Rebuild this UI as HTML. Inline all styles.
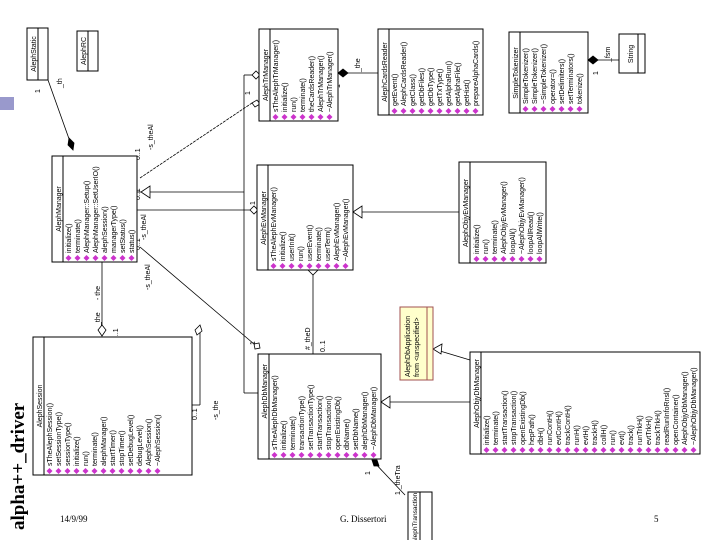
<!DOCTYPE html>
<html><head><meta charset="utf-8"><style>
html,body{margin:0;padding:0;background:#fff;}
svg{display:block;}
.t{font-family:"Liberation Sans",sans-serif;font-size:7px;fill:#000;}
.s{font-family:"Liberation Sans",sans-serif;font-size:7px;fill:#000;}
.b rect{fill:#fff;stroke:#000;stroke-width:1;}
.b line{stroke:#000;stroke-width:1;}
.c{stroke:#000;stroke-width:0.8;fill:none;}
</style></head><body>
<svg width="720" height="540" viewBox="0 0 720 540" xmlns="http://www.w3.org/2000/svg">
<defs><path id="d" d="M1 0l3-3 3 3-3 3z" fill="#c3c"/></defs>
<rect x="0" y="97" width="14" height="13" fill="#9999cc"/>

<!-- connectors -->
<g class="c">
<line x1="48" y1="80" x2="73" y2="150"/>
<line x1="137" y1="192" x2="244" y2="192"/>
<line x1="137" y1="210" x2="250" y2="210"/>
<line x1="244" y1="75" x2="244" y2="393"/>
<line x1="244" y1="75" x2="252" y2="75"/>
<line x1="244" y1="393" x2="258" y2="393"/>
<line x1="140" y1="178" x2="252" y2="103" stroke-dasharray="3,1"/>
<line x1="140" y1="247" x2="254" y2="344"/>
<line x1="102" y1="262" x2="102" y2="325"/>
<line x1="192" y1="405" x2="200" y2="405"/><line x1="200" y1="405" x2="200" y2="330"/>
<line x1="338" y1="73" x2="378" y2="73"/>
<line x1="588" y1="60" x2="619" y2="60"/>
<line x1="353" y1="212" x2="459" y2="212"/>
<line x1="313" y1="270" x2="313" y2="354"/>
<line x1="381" y1="402" x2="470" y2="402"/>
<line x1="470" y1="360" x2="440" y2="351"/>
<line x1="372" y1="460" x2="405" y2="495"/>
</g>
<!-- arrowheads -->
<g stroke="#000" stroke-width="0.8">
<path d="M73 150l-5-5 1-7 5 5z" fill="#000"/>
<path d="M150 186v12l-9-6z" fill="#fff"/>
<path d="M250 210l4-4 4 4-4 4z" fill="#fff"/>
<path d="M252 75l4-4 4 4-4 4z" fill="#fff"/>
<path d="M252 103l5-3 3 4-5 3z" fill="#fff"/>
<path d="M254 344l5-1 1 5-5 1z" fill="#fff"/>
<path d="M102 325l4 5-4 6-4-6z" fill="#fff"/>
<path d="M195 330l5-5 2 6-5 4z" fill="#fff"/>
<path d="M338 73l5-4 5 4-5 4z" fill="#000"/>
<path d="M588 60l5-4 5 4-5 4z" fill="#000"/>
<path d="M353 212l9-6v12z" fill="#fff"/>
<path d="M308 270l5-5 5 5-5 5z" fill="#fff"/>
<path d="M381 402l9-6v12z" fill="#fff"/>
<path d="M433 349l9-5-1 10z" fill="#fff"/>
<path d="M372 460l2 6 5 0-2-6z" fill="#000"/>
</g>
<!-- connector labels (rotated) -->
<g class="s">
<text transform="translate(40,93) rotate(-90)">1</text>
<text transform="translate(62,88) rotate(-90)">_th</text>
<text transform="translate(140,160) rotate(-90)">0..1</text>
<text transform="translate(153,150) rotate(-90)">-s_theAl</text>
<text transform="translate(140,200) rotate(-90)">0..1</text>
<text transform="translate(146,240) rotate(-90)">-s_theAl</text>
<text transform="translate(140,250) rotate(-90)">0..1</text>
<text transform="translate(150,290) rotate(-90)">-s_theAl</text>
<text transform="translate(100,300) rotate(-90)">- the</text>
<text transform="translate(100,326) rotate(-90)">_the</text>
<text transform="translate(118,340) rotate(-90)">1..1</text>
<text transform="translate(197,420) rotate(-90)">0..1</text>
<text transform="translate(218,420) rotate(-90)">-s_the</text>
<text transform="translate(250,95) rotate(-90)">1</text>
<text transform="translate(255,205) rotate(-90)">1</text>
<text transform="translate(255,345) rotate(-90)">1</text>
<text transform="translate(340,88) rotate(-90)">1</text>
<text transform="translate(360,72) rotate(-90)">_the</text>
<text transform="translate(598,75) rotate(-90)">1</text>
<text transform="translate(610,62) rotate(-90)">_fsm</text>
<text transform="translate(310,350) rotate(-90)">#_theD</text>
<text transform="translate(325,352) rotate(-90)">0..1</text>
<text transform="translate(370,475) rotate(-90)">1</text>
<text transform="translate(400,495) rotate(-90)">1 _theTra</text>
</g>

<!-- classes -->
<g class="b">
<g transform="translate(27,80) rotate(-90)"><rect width="52" height="21"/><line x1="0" y1="11" x2="52" y2="11"/><text class="t" x="26" y="9" text-anchor="middle">AlephStatic</text></g>
<g transform="translate(77,71) rotate(-90)"><rect width="40" height="21"/><line x1="0" y1="11" x2="40" y2="11"/><text class="t" x="20" y="9" text-anchor="middle">AlephRC</text></g>
<g transform="translate(619,73) rotate(-90)"><rect width="39" height="26"/><line x1="0" y1="19" x2="39" y2="19"/><text class="t" x="19" y="14" text-anchor="middle">String</text></g>
<g transform="translate(408,545) rotate(-90)"><rect width="53" height="24"/><line x1="0" y1="12" x2="53" y2="12"/><text class="t" x="27" y="9" text-anchor="middle" style="font-size:6.5px">AlephTransaction</text></g>
<g transform="translate(400,380) rotate(-90)"><rect width="73" height="33" style="fill:#ffffcc;stroke:#a05050"/><line x1="0" y1="27" x2="73" y2="27" style="stroke:#a05050"/><text class="t" x="3" y="10">AlephDbApplication</text><text class="t" x="3" y="19">from &lt;unspecified&gt;</text></g>

<g transform="translate(52,262) rotate(-90)"><rect width="106" height="85"/><line x1="0" y1="11" x2="106" y2="11"/><text class="t" x="53" y="9" text-anchor="middle">AlephManager</text>
<use href="#d" y="16.5"/><text class="t" x="9" y="19">initialize()</text>
<use href="#d" y="25.5"/><text class="t" x="9" y="28">terminate()</text>
<use href="#d" y="34.5"/><text class="t" x="9" y="37">AlephManager::Setup()</text>
<use href="#d" y="43.5"/><text class="t" x="9" y="46">AlephManager::SetUserIO()</text>
<use href="#d" y="52.5"/><text class="t" x="9" y="55">alephSession()</text>
<use href="#d" y="61.5"/><text class="t" x="9" y="64">managerType()</text>
<use href="#d" y="70.5"/><text class="t" x="9" y="73">setStatus()</text>
<use href="#d" y="79.5"/><text class="t" x="9" y="82">status()</text></g>

<g transform="translate(259,121) rotate(-90)"><rect width="92" height="79"/><line x1="0" y1="11" x2="92" y2="11"/><text class="t" x="46" y="9" text-anchor="middle">AlephTrManager</text>
<use href="#d" y="16.5"/><text class="t" x="9" y="19">sTheAlephTrManager()</text>
<use href="#d" y="25.5"/><text class="t" x="9" y="28">initialize()</text>
<use href="#d" y="34.5"/><text class="t" x="9" y="37">run()</text>
<use href="#d" y="43.5"/><text class="t" x="9" y="46">terminate()</text>
<use href="#d" y="52.5"/><text class="t" x="9" y="55">theCardsReader()</text>
<use href="#d" y="61.5"/><text class="t" x="9" y="64">AlephTrManager()</text>
<use href="#d" y="70.5"/><text class="t" x="9" y="73">~AlephTrManager()</text></g>

<g transform="translate(378,115) rotate(-90)"><rect width="86" height="105"/><line x1="0" y1="11" x2="86" y2="11"/><text class="t" x="43" y="9" text-anchor="middle">AlephCardsReader</text>
<use href="#d" y="16.5"/><text class="t" x="9" y="19">getEvent()</text>
<use href="#d" y="25.5"/><text class="t" x="9" y="28">AlephCardsReader()</text>
<use href="#d" y="34.5"/><text class="t" x="9" y="37">getClass()</text>
<use href="#d" y="43.5"/><text class="t" x="9" y="46">getDbFiles()</text>
<use href="#d" y="52.5"/><text class="t" x="9" y="55">getDbType()</text>
<use href="#d" y="61.5"/><text class="t" x="9" y="64">getTxType()</text>
<use href="#d" y="70.5"/><text class="t" x="9" y="73">getAlphaRun()</text>
<use href="#d" y="79.5"/><text class="t" x="9" y="82">getAlphaFile()</text>
<use href="#d" y="88.5"/><text class="t" x="9" y="91">getHist()</text>
<use href="#d" y="97.5"/><text class="t" x="9" y="100">prepareAlphaCards()</text></g>

<g transform="translate(509,113) rotate(-90)"><rect width="81" height="79"/><line x1="0" y1="11" x2="81" y2="11"/><text class="t" x="40" y="9" text-anchor="middle">SimpleTokenizer</text>
<use href="#d" y="16.5"/><text class="t" x="9" y="19">SimpleTokenizer()</text>
<use href="#d" y="25.5"/><text class="t" x="9" y="28">SimpleTokenizer()</text>
<use href="#d" y="34.5"/><text class="t" x="9" y="37">~SimpleTokenizer()</text>
<use href="#d" y="43.5"/><text class="t" x="9" y="46">operator=()</text>
<use href="#d" y="52.5"/><text class="t" x="9" y="55">setDelimiters()</text>
<use href="#d" y="61.5"/><text class="t" x="9" y="64">setTerminators()</text>
<use href="#d" y="70.5"/><text class="t" x="9" y="73">tokenize()</text></g>

<g transform="translate(257,270) rotate(-90)"><rect width="105" height="96"/><line x1="0" y1="11" x2="105" y2="11"/><text class="t" x="52" y="9" text-anchor="middle">AlephEvManager</text>
<use href="#d" y="16.5"/><text class="t" x="9" y="19">sTheAlephEvManager()</text>
<use href="#d" y="25.5"/><text class="t" x="9" y="28">initialize()</text>
<use href="#d" y="34.5"/><text class="t" x="9" y="37">userInit()</text>
<use href="#d" y="43.5"/><text class="t" x="9" y="46">run()</text>
<use href="#d" y="52.5"/><text class="t" x="9" y="55">userEvent()</text>
<use href="#d" y="61.5"/><text class="t" x="9" y="64">terminate()</text>
<use href="#d" y="70.5"/><text class="t" x="9" y="73">userTerm()</text>
<use href="#d" y="79.5"/><text class="t" x="9" y="82">AlephEvManager()</text>
<use href="#d" y="88.5"/><text class="t" x="9" y="91">~AlephEvManager()</text></g>

<g transform="translate(459,263) rotate(-90)"><rect width="101" height="87"/><line x1="0" y1="11" x2="101" y2="11"/><text class="t" x="50" y="9" text-anchor="middle">AlephObjyEvManager</text>
<use href="#d" y="17.5"/><text class="t" x="9" y="20">initialize()</text>
<use href="#d" y="26.5"/><text class="t" x="9" y="29">run()</text>
<use href="#d" y="35.5"/><text class="t" x="9" y="38">terminate()</text>
<use href="#d" y="44.5"/><text class="t" x="9" y="47">AlephObjyEvManager()</text>
<use href="#d" y="53.5"/><text class="t" x="9" y="56">loopAll()</text>
<use href="#d" y="62.5"/><text class="t" x="9" y="65">~AlephObjyEvManager()</text>
<use href="#d" y="71.5"/><text class="t" x="9" y="74">loopAllRead()</text>
<use href="#d" y="80.5"/><text class="t" x="9" y="83">loopAllWrite()</text></g>

<g transform="translate(33,475) rotate(-90)"><rect width="138" height="159"/><line x1="0" y1="11" x2="138" y2="11"/><text class="t" x="69" y="9" text-anchor="middle">AlephSession</text>
<use href="#d" y="16.5"/><text class="t" x="9" y="19">sTheAlephSession()</text>
<use href="#d" y="25.5"/><text class="t" x="9" y="28">setSessionType()</text>
<use href="#d" y="34.5"/><text class="t" x="9" y="37">sessionType()</text>
<use href="#d" y="43.5"/><text class="t" x="9" y="46">initialize()</text>
<use href="#d" y="52.5"/><text class="t" x="9" y="55">run()</text>
<use href="#d" y="61.5"/><text class="t" x="9" y="64">terminate()</text>
<use href="#d" y="70.5"/><text class="t" x="9" y="73">alephManager()</text>
<use href="#d" y="79.5"/><text class="t" x="9" y="82">startTimer()</text>
<use href="#d" y="88.5"/><text class="t" x="9" y="91">stopTimer()</text>
<use href="#d" y="97.5"/><text class="t" x="9" y="100">setDebugLevel()</text>
<use href="#d" y="106.5"/><text class="t" x="9" y="109">debugLevel()</text>
<use href="#d" y="115.5"/><text class="t" x="9" y="118">AlephSession()</text>
<use href="#d" y="124.5"/><text class="t" x="9" y="127">~AlephSession()</text></g>

<g transform="translate(258,459) rotate(-90)"><rect width="105" height="123"/><line x1="0" y1="11" x2="105" y2="11"/><text class="t" x="95" y="9" text-anchor="end">AlephDbManager</text>
<use href="#d" y="16.5"/><text class="t" x="9" y="19">sTheAlephDbManager()</text>
<use href="#d" y="25.5"/><text class="t" x="9" y="28">initialize()</text>
<use href="#d" y="34.5"/><text class="t" x="9" y="37">terminate()</text>
<use href="#d" y="43.5"/><text class="t" x="9" y="46">transactionType()</text>
<use href="#d" y="52.5"/><text class="t" x="9" y="55">setTransactionType()</text>
<use href="#d" y="61.5"/><text class="t" x="9" y="64">startTransaction()</text>
<use href="#d" y="70.5"/><text class="t" x="9" y="73">stopTransaction()</text>
<use href="#d" y="79.5"/><text class="t" x="9" y="82">openExistingDb()</text>
<use href="#d" y="88.5"/><text class="t" x="9" y="91">dbName()</text>
<use href="#d" y="97.5"/><text class="t" x="9" y="100">setDbName()</text>
<use href="#d" y="106.5"/><text class="t" x="9" y="109">alephDbManager()</text>
<use href="#d" y="115.5"/><text class="t" x="9" y="118">~AlephDbManager()</text></g>

<g transform="translate(470,454) rotate(-90)"><rect width="102" height="230"/><line x1="0" y1="11" x2="102" y2="11"/><text class="t" x="95" y="9" text-anchor="end">AlephObjyDbManager</text>
<use href="#d" y="16.5"/><text class="t" x="9" y="19">initialize()</text>
<use href="#d" y="25.5"/><text class="t" x="9" y="28">terminate()</text>
<use href="#d" y="34.5"/><text class="t" x="9" y="37">startTransaction()</text>
<use href="#d" y="43.5"/><text class="t" x="9" y="46">stopTransaction()</text>
<use href="#d" y="52.5"/><text class="t" x="9" y="55">openExistingDb()</text>
<use href="#d" y="61.5"/><text class="t" x="9" y="64">hepPath()</text>
<use href="#d" y="70.5"/><text class="t" x="9" y="73">dbH()</text>
<use href="#d" y="79.5"/><text class="t" x="9" y="82">runContH()</text>
<use href="#d" y="88.5"/><text class="t" x="9" y="91">evtContH()</text>
<use href="#d" y="97.5"/><text class="t" x="9" y="100">trackContH()</text>
<use href="#d" y="106.5"/><text class="t" x="9" y="109">runH()</text>
<use href="#d" y="115.5"/><text class="t" x="9" y="118">evtH()</text>
<use href="#d" y="124.5"/><text class="t" x="9" y="127">trackH()</text>
<use href="#d" y="133.5"/><text class="t" x="9" y="136">collH()</text>
<use href="#d" y="142.5"/><text class="t" x="9" y="145">run()</text>
<use href="#d" y="151.5"/><text class="t" x="9" y="154">evt()</text>
<use href="#d" y="160.5"/><text class="t" x="9" y="163">track()</text>
<use href="#d" y="169.5"/><text class="t" x="9" y="172">runTrkH()</text>
<use href="#d" y="178.5"/><text class="t" x="9" y="181">evtTrkH()</text>
<use href="#d" y="187.5"/><text class="t" x="9" y="190">trackTrkH()</text>
<use href="#d" y="196.5"/><text class="t" x="9" y="199">readRunInfoRnsl()</text>
<use href="#d" y="205.5"/><text class="t" x="9" y="208">openContainer()</text>
<use href="#d" y="214.5"/><text class="t" x="9" y="217">AlephObjyDbManager()</text>
<use href="#d" y="223.5"/><text class="t" x="9" y="226">~AlephObjyDbManager()</text></g>
</g>

<text transform="translate(24,530) rotate(-90)" style="font-family:'Liberation Serif',serif;font-weight:bold;font-size:19px;">alpha++_driver</text>
<text x="60" y="522" style="font-family:'Liberation Serif',serif;font-size:9px;">14/9/99</text>
<text x="340" y="522" style="font-family:'Liberation Serif',serif;font-size:9px;">G. Dissertori</text>
<text x="654" y="522" style="font-family:'Liberation Serif',serif;font-size:9px;">5</text>
</svg>
</body></html>
